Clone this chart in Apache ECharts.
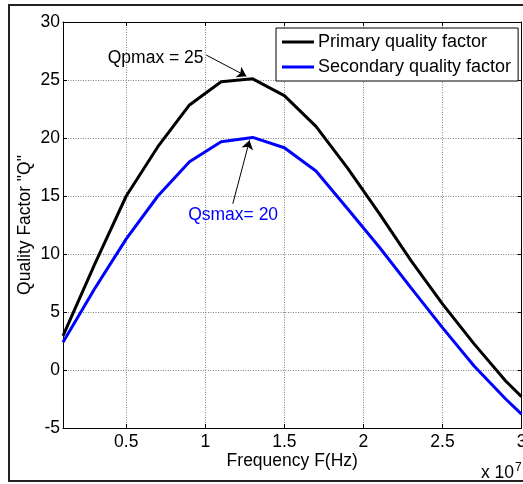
<!DOCTYPE html>
<html>
<head>
<meta charset="utf-8">
<script src="https://cdn.jsdelivr.net/npm/echarts@6/dist/echarts.min.js"></script>
<style>
html,body{margin:0;padding:0;background:#fff;}
#c{width:523px;height:484px;}
</style>
</head>
<body>
<div id="c"></div>
<script>
// Frequency in units of 1e7 Hz
const freq = [0.1, 0.3, 0.5, 0.7, 0.9, 1.1, 1.3, 1.5, 1.7, 1.9, 2.1, 2.3, 2.5, 2.7, 2.9, 3.0];
const primaryQ = [2.95, 9.1, 15.0, 19.25, 22.85, 24.85, 25.1, 23.65, 21.0, 17.4, 13.5, 9.45, 5.7, 2.25, -0.95, -2.3];
const secondaryQ = [2.4, 7.0, 11.3, 15.0, 17.96, 19.68, 20.05, 19.16, 17.15, 13.9, 10.6, 7.1, 3.65, 0.35, -2.5, -3.8];
const xTicks = [0.5, 1, 1.5, 2, 2.5, 3];
const yTicks = [-5, 0, 5, 10, 15, 20, 25, 30];
const seriesNames = ['Primary quality factor', 'Secondary quality factor'];

const FONT = 'Liberation Sans, Arial, sans-serif';
const FS = 17.5;

const chart = echarts.init(document.getElementById('c'), null, {renderer: 'canvas'});

const gridLine = {show: true, lineStyle: {color: '#808080', type: [1, 1.5], width: 1}};

chart.setOption({
  animation: false,
  backgroundColor: '#fff',
  textStyle: {fontFamily: FONT},
  grid: {left: 63, right: 1.5, top: 22, bottom: 56, containLabel: false, outerBoundsMode: 'none'},
  legend: {
    left: 276, top: 28, orient: 'vertical',
    backgroundColor: '#fff', borderColor: '#000', borderWidth: 1,
    padding: [5, 7, 5, 6], itemGap: 7, itemWidth: 32, itemHeight: 14,
    textStyle: {fontFamily: FONT, fontSize: 18, color: '#000', padding: [0, 0, 0, -1]},
    data: [
      {name: seriesNames[0], icon: 'path://M0,6 L32,6 L32,9 L0,9 Z'},
      {name: seriesNames[1], icon: 'path://M0,6 L32,6 L32,9 L0,9 Z'}
    ]
  },
  xAxis: [{
    type: 'value', min: 0.1, max: 3, position: 'bottom',
    name: 'Frequency F(Hz)', nameLocation: 'middle', nameGap: 24, nameMoveOverlap: false,
    nameTextStyle: {fontFamily: FONT, fontSize: FS, color: '#000'},
    axisLine: {show: true, onZero: false, lineStyle: {color: '#000', width: 1}},
    axisTick: {show: true, inside: true, length: 4, customValues: xTicks, lineStyle: {color: '#000'}},
    axisLabel: {show: true, customValues: xTicks, margin: 5, fontFamily: FONT, fontSize: FS, color: '#000'},
    splitLine: gridLine
  }, {
    type: 'value', min: 0.1, max: 3, position: 'top',
    axisLine: {show: true, onZero: false, lineStyle: {color: '#000', width: 1}},
    axisTick: {show: true, inside: true, length: 4, customValues: xTicks, lineStyle: {color: '#000'}},
    axisLabel: {show: false, customValues: xTicks},
    splitLine: {show: false}
  }],
  yAxis: [{
    type: 'value', min: -5, max: 30, interval: 5, position: 'left',
    name: 'Quality Factor "Q"', nameLocation: 'middle', nameGap: 29, nameMoveOverlap: false,
    nameTextStyle: {fontFamily: FONT, fontSize: FS, color: '#000'},
    axisLine: {show: true, onZero: false, lineStyle: {color: '#000', width: 1}},
    axisTick: {show: true, inside: true, length: 4, lineStyle: {color: '#000'}},
    axisLabel: {show: true, margin: 3, fontFamily: FONT, fontSize: FS, color: '#000'},
    splitLine: gridLine
  }, {
    type: 'value', min: -5, max: 30, interval: 5, position: 'right',
    axisLine: {show: true, onZero: false, lineStyle: {color: '#000', width: 1}},
    axisTick: {show: true, inside: true, length: 4, lineStyle: {color: '#000'}},
    axisLabel: {show: false},
    splitLine: {show: false}
  }],
  series: [{
    name: seriesNames[0], type: 'line', xAxisIndex: 0, yAxisIndex: 0,
    data: freq.map((f, i) => [f, primaryQ[i]]),
    showSymbol: false, symbol: 'none', smooth: false, silent: true,
    color: '#000', lineStyle: {color: '#000', width: 3},
    markLine: {
      silent: true, symbol: ['none', 'arrow'], symbolSize: 9,
      label: {show: false},
      lineStyle: {color: '#000', width: 1, type: 'solid'},
      data: [[{coord: [1.006, 27.15]}, {coord: [1.26, 25.33]}]]
    },
    markPoint: {
      silent: true, symbol: 'circle', symbolSize: 0,
      data: [{coord: [0.989, 26.91], value: 'Qpmax = 25',
        label: {show: true, position: 'left', distance: 0, formatter: 'Qpmax = 25',
          fontFamily: FONT, fontSize: FS, color: '#000'}}]
    }
  }, {
    name: seriesNames[1], type: 'line', xAxisIndex: 0, yAxisIndex: 0,
    data: freq.map((f, i) => [f, secondaryQ[i]]),
    showSymbol: false, symbol: 'none', smooth: false, silent: true,
    color: '#0000ff', lineStyle: {color: '#0000ff', width: 3},
    markLine: {
      silent: true, symbol: ['none', 'arrow'], symbolSize: 9,
      label: {show: false},
      lineStyle: {color: '#000', width: 1, type: 'solid'},
      data: [[{coord: [1.174, 14.33]}, {coord: [1.28, 19.8]}]]
    },
    markPoint: {
      silent: true, symbol: 'circle', symbolSize: 0,
      data: [{coord: [1.176, 13.32], value: 'Qsmax= 20',
        label: {show: true, position: 'inside', formatter: 'Qsmax= 20',
          fontFamily: FONT, fontSize: FS, color: '#0000ff'}}]
    }
  }],
  graphic: [{
    type: 'rect', shape: {x: 9, y: 5, width: 520, height: 476},
    style: {fill: 'none', stroke: '#222', lineWidth: 2}, z: 100, silent: true
  }, {
    type: 'text', left: 481, top: 462,
    style: {
      text: '{a|x 10}{b|7}',
      rich: {
        a: {fontFamily: FONT, fontSize: FS, fill: '#000', color: '#000'},
        b: {fontFamily: FONT, fontSize: 12, fill: '#000', color: '#000', verticalAlign: 'top', padding: [0, 0, 10, 1]}
      }
    }, z: 100, silent: true
  }]
});
</script>
</body>
</html>
